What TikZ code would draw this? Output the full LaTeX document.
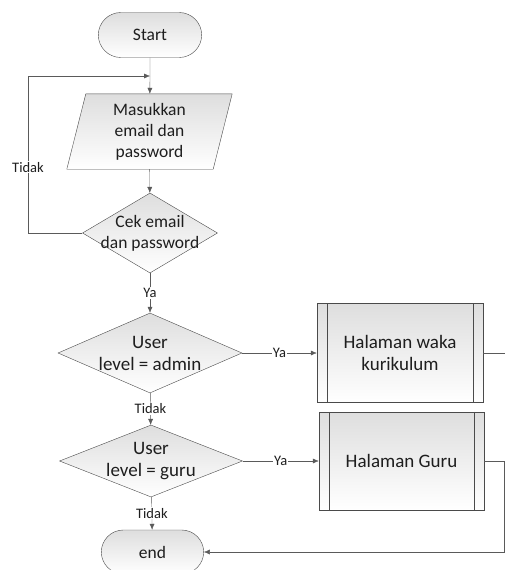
\documentclass[tikz,border=0pt]{standalone}
\usepackage{fontspec}
\setmainfont{Carlito}
\usetikzlibrary{shapes.geometric,shapes.misc,arrows.meta,backgrounds}
\definecolor{edgegray}{HTML}{5A5A5A}
\definecolor{bordergray}{HTML}{4A4A4A}
\definecolor{textgray}{HTML}{1E1E1E}
\tikzset{caption/.style={text=textgray,font=\fontsize{17.5}{21}\selectfont,align=center}}
\tikzset{bigcaption/.style={caption,font=\fontsize{19}{22}\selectfont}}
\tikzset{basic/.style={caption,draw=bordergray,top color=black!13,bottom color=white}}
\tikzset{terminal/.style={basic,rounded rectangle,minimum width=110pt,minimum height=45pt}}
\tikzset{decision/.style={basic,diamond,inner sep=0pt}}
\tikzset{process/.style={basic,bigcaption,rectangle,minimum width=166pt,minimum height=99pt}}
\tikzset{flow/.style={draw=edgegray,-{Latex[length=6pt,width=5pt]}}}
\tikzset{answer/.style={fill=white,text=textgray,font=\fontsize{14.5}{16}\selectfont,inner sep=1pt}}
\newcommand{\sidebars}[1]{\draw[bordergray] ([xshift=10pt]#1.north west) -- ([xshift=10pt]#1.south west)
                                  ([xshift=-10pt]#1.north east) -- ([xshift=-10pt]#1.south east);}

\begin{document}
\begin{tikzpicture}[x=1pt,y=-1pt]
    \useasboundingbox (0,0) rectangle (505,570);
    % Draw start and input
    \node[terminal] (start) at (150,35) {Start};
    \node[caption,minimum width=146pt,minimum height=75pt] (input) at (149.5,131.5)
        {Masukkan\\email dan\\password};
    \begin{scope}[on background layer]
        \path[basic] ([xshift=9.5pt]input.north west) -- ([xshift=9.5pt]input.north east)
            -- ([xshift=-9.5pt]input.south east) -- ([xshift=-9.5pt]input.south west) -- cycle;
    \end{scope}
    % Draw decision nodes, text placed on top
    \node[decision,minimum width=135pt,minimum height=80pt] (cek) at (150,233) {};
    \node[caption] at (cek) {Cek email\\dan password};
    \node[decision,minimum width=184pt,minimum height=80pt] (admin) at (150,353) {};
    \node[bigcaption] at (admin) {User\\level = admin};
    \node[decision,minimum width=183pt,minimum height=72pt] (guru) at (151,461) {};
    \node[bigcaption] at (guru) {User\\level = guru};
    \node[terminal,minimum width=109pt,minimum height=44pt] (end) at (152.5,552) {end};
    % Draw pages
    \node[process] (waka) at (400,353) {Halaman waka\\kurikulum};
    \sidebars{waka}
    \node[process,minimum width=165pt,minimum height=98pt] (gurupage) at (401.5,461) {Halaman Guru};
    \sidebars{gurupage}
    % Connect main column
    \coordinate (join) at (150,76);
    \draw[draw=edgegray] (start) -- (join);
    \draw[flow] (join) -- (input);
    \draw[flow] (input) -- (cek);
    \draw[flow] (cek.west) -| (28,76) node[answer,pos=0.71] {Tidak} -- (join);
    \draw[flow] (cek) -- node[answer] {Ya} (admin);
    \draw[flow] (admin) -- node[answer] {Tidak} (guru);
    \draw[flow] (guru) -- node[answer] {Tidak} (end);
    % Connect pages
    \draw[flow] (admin) -- node[answer] {Ya} (waka);
    \draw[flow] (guru) -- node[answer] {Ya} (gurupage);
    \coordinate (exitwaka) at (505,353);
    \coordinate (exitguru) at (504,461);
    \draw[draw=edgegray] (waka) -- (exitwaka);
    \draw[flow] (gurupage) -- (exitguru) |- (end);
\end{tikzpicture}
\end{document}
